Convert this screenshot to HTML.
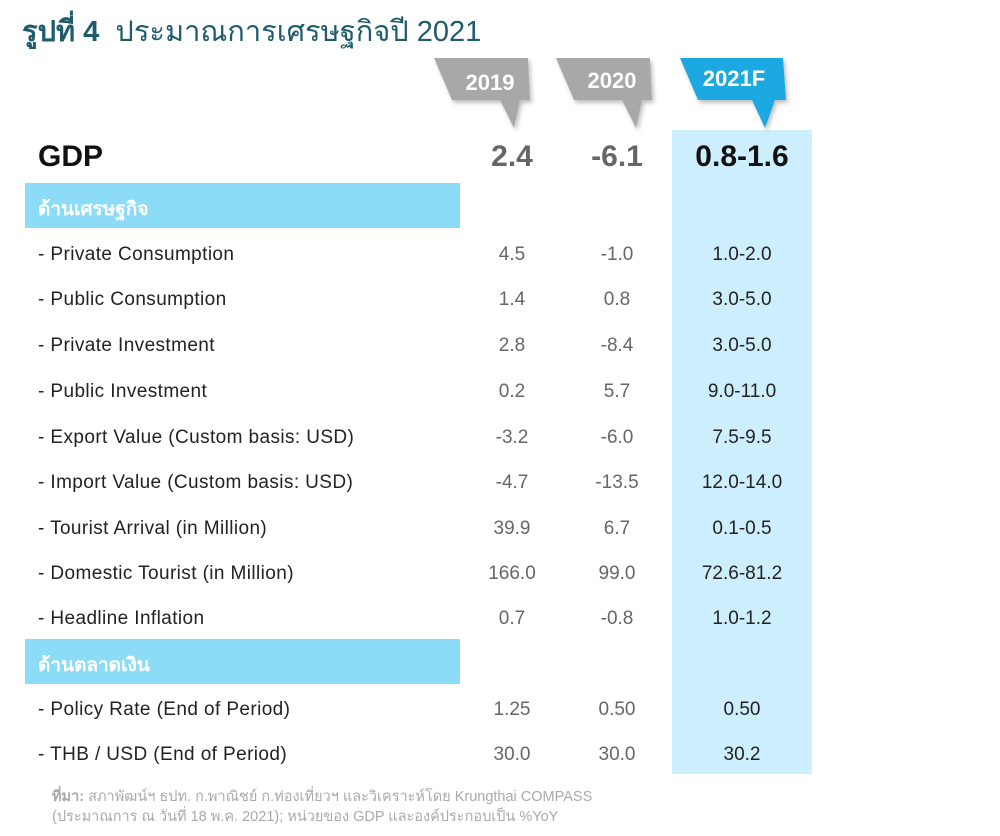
<!DOCTYPE html>
<html><head><meta charset="utf-8"><style>
body{margin:0;width:1000px;height:836px;background:#fff;position:relative;overflow:hidden;font-family:"Liberation Sans","Noto Sans CJK SC",sans-serif}
.a{position:absolute;white-space:nowrap}
.lab{left:38px;font-size:19px;color:#222;letter-spacing:0.4px}
.v{font-size:19px;color:#666;text-align:center;width:120px}
.v3{font-size:19px;color:#222;text-align:center;width:140px;left:672px}
</style></head><body>
<div class="a" style="left:22px;top:8px;font-size:29px;color:#1f5c6b"><b>รูปที่ 4</b>&nbsp; ประมาณการเศรษฐกิจปี 2021</div>
<div class="a" style="left:672px;top:130px;width:140px;height:644px;background:#cdeefc"></div>
<svg class="a" style="left:0;top:0" width="1000" height="140">
<defs><filter id="s"><feDropShadow dx="2" dy="3" stdDeviation="2" flood-opacity="0.25"/></filter></defs>
<path d="M434,58 L528,58 L530,100 L520,100 L514,128 L500,100 L452,100 Z" fill="#a8a8a8" filter="url(#s)"/>
<path d="M556,58 L650,58 L652,100 L642,100 L636,128 L622,100 L574,100 Z" fill="#a8a8a8" filter="url(#s)"/>
<path d="M680,58 L783,58 L786,100 L775,100 L765,128 L752,100 L698,100 Z" fill="#1ba8e0" filter="url(#s)"/>
<text x="490" y="90" font-size="22" font-weight="bold" fill="#fff" text-anchor="middle" font-family="Liberation Sans">2019</text>
<text x="612" y="88" font-size="22" font-weight="bold" fill="#fff" text-anchor="middle" font-family="Liberation Sans">2020</text>
<text x="734" y="86" font-size="22" font-weight="bold" fill="#fff" text-anchor="middle" font-family="Liberation Sans">2021F</text>
</svg>
<div class="a" style="left:38px;top:140px;font-size:30px;font-weight:bold;color:#111">GDP</div>
<div class="a v" style="left:452px;top:140px;font-size:30px;font-weight:bold;color:#666">2.4</div>
<div class="a v" style="left:557px;top:140px;font-size:30px;font-weight:bold;color:#666">-6.1</div>
<div class="a v3" style="top:140px;font-size:30px;font-weight:bold;color:#111">0.8-1.6</div>
<div class="a" style="left:25px;top:183px;width:435px;height:45px;background:#8cdcf8"></div>
<div class="a" style="left:38px;top:194px;font-size:19px;font-weight:bold;color:#fff">ด้านเศรษฐกิจ</div>
<div class="a" style="left:25px;top:639px;width:435px;height:45px;background:#8cdcf8"></div>
<div class="a" style="left:38px;top:650px;font-size:19px;font-weight:bold;color:#fff">ด้านตลาดเงิน</div>

<div class="a lab" style="top:244px">- Private Consumption</div><div class="a v" style="left:452px;top:244px">4.5</div><div class="a v" style="left:557px;top:244px">-1.0</div><div class="a v3" style="top:244px">1.0-2.0</div>
<div class="a lab" style="top:289px">- Public Consumption</div><div class="a v" style="left:452px;top:289px">1.4</div><div class="a v" style="left:557px;top:289px">0.8</div><div class="a v3" style="top:289px">3.0-5.0</div>
<div class="a lab" style="top:335px">- Private Investment</div><div class="a v" style="left:452px;top:335px">2.8</div><div class="a v" style="left:557px;top:335px">-8.4</div><div class="a v3" style="top:335px">3.0-5.0</div>
<div class="a lab" style="top:381px">- Public Investment</div><div class="a v" style="left:452px;top:381px">0.2</div><div class="a v" style="left:557px;top:381px">5.7</div><div class="a v3" style="top:381px">9.0-11.0</div>
<div class="a lab" style="top:427px">- Export Value (Custom basis: USD)</div><div class="a v" style="left:452px;top:427px">-3.2</div><div class="a v" style="left:557px;top:427px">-6.0</div><div class="a v3" style="top:427px">7.5-9.5</div>
<div class="a lab" style="top:472px">- Import Value (Custom basis: USD)</div><div class="a v" style="left:452px;top:472px">-4.7</div><div class="a v" style="left:557px;top:472px">-13.5</div><div class="a v3" style="top:472px">12.0-14.0</div>
<div class="a lab" style="top:518px">- Tourist Arrival (in Million)</div><div class="a v" style="left:452px;top:518px">39.9</div><div class="a v" style="left:557px;top:518px">6.7</div><div class="a v3" style="top:518px">0.1-0.5</div>
<div class="a lab" style="top:563px">- Domestic Tourist (in Million)</div><div class="a v" style="left:452px;top:563px">166.0</div><div class="a v" style="left:557px;top:563px">99.0</div><div class="a v3" style="top:563px">72.6-81.2</div>
<div class="a lab" style="top:608px">- Headline Inflation</div><div class="a v" style="left:452px;top:608px">0.7</div><div class="a v" style="left:557px;top:608px">-0.8</div><div class="a v3" style="top:608px">1.0-1.2</div>
<div class="a lab" style="top:699px">- Policy Rate (End of Period)</div><div class="a v" style="left:452px;top:699px">1.25</div><div class="a v" style="left:557px;top:699px">0.50</div><div class="a v3" style="top:699px">0.50</div>
<div class="a lab" style="top:744px">- THB / USD (End of Period)</div><div class="a v" style="left:452px;top:744px">30.0</div><div class="a v" style="left:557px;top:744px">30.0</div><div class="a v3" style="top:744px">30.2</div>

<div class="a" style="left:52px;top:787px;font-size:14.5px;color:#aaa;line-height:20px"><b>ที่มา:</b> สภาพัฒน์ฯ ธปท. ก.พาณิชย์ ก.ท่องเที่ยวฯ และวิเคราะห์โดย Krungthai COMPASS<br>(ประมาณการ ณ วันที่ 18 พ.ค. 2021); หน่วยของ GDP และองค์ประกอบเป็น %YoY</div>
</body></html>
